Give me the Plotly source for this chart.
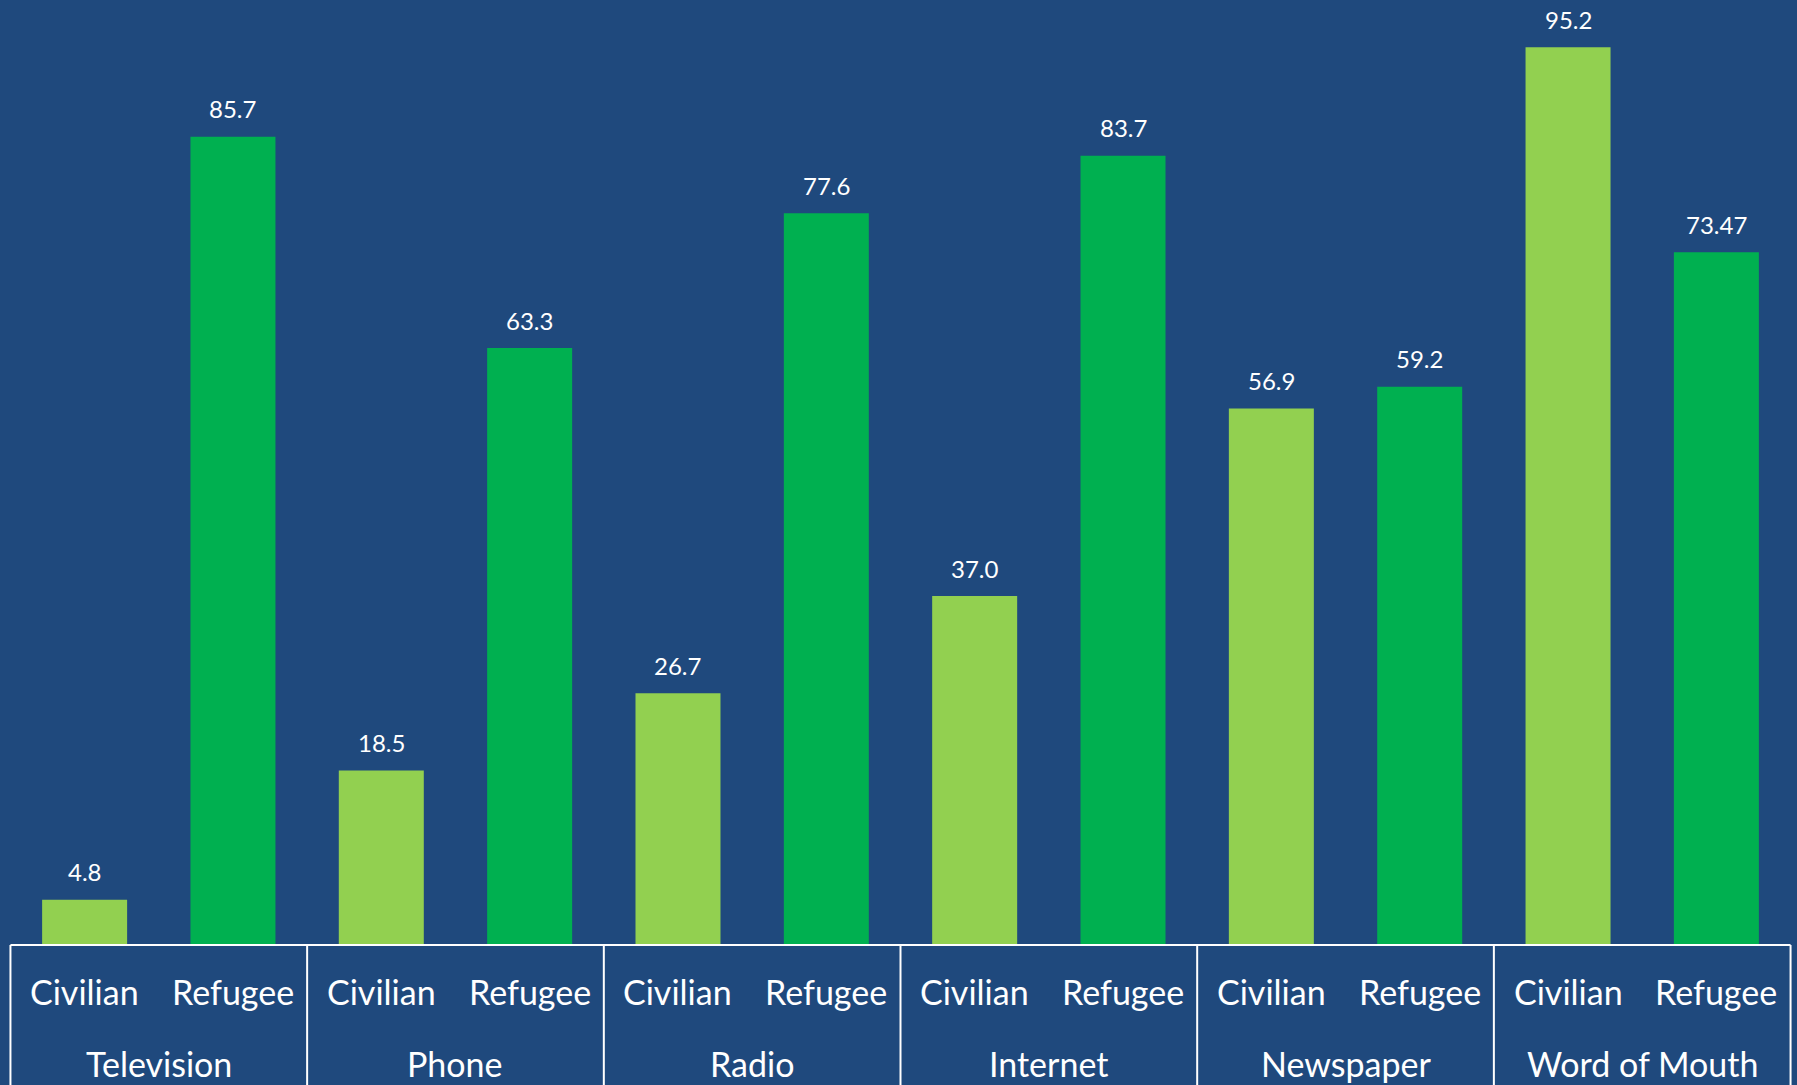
import plotly.graph_objects as go

media = ["Television", "Phone", "Radio", "Internet", "Newspaper", "Word of Mouth"]
groups = ["Civilian", "Refugee"]
civilian = [4.8, 18.5, 26.7, 37.0, 56.9, 95.2]
refugee = [85.7, 63.3, 77.6, 83.7, 59.2, 73.47]

BG = "#1F497D"
C_CIV = "#92D050"
C_REF = "#00B050"
FONT = "Lato"

cats = []
for m in media:
    for g in groups:
        cats.append(f"{m} {g}")

fig = go.Figure()
fig.add_trace(go.Bar(
    x=[f"{m} Civilian" for m in media], y=civilian,
    marker=dict(color=C_CIV, line=dict(width=0)), width=0.573,
    name="Civilian", hoverinfo="x+y",
))
fig.add_trace(go.Bar(
    x=[f"{m} Refugee" for m in media], y=refugee,
    marker=dict(color=C_REF, line=dict(width=0)), width=0.573,
    name="Refugee", hoverinfo="x+y",
))

annotations = []
shapes = []
for i, m in enumerate(media):
    for j, (vals, g) in enumerate([(civilian, "Civilian"), (refugee, "Refugee")]):
        idx = 2 * i + j
        v = vals[i]
        annotations.append(dict(
            x=idx, y=v, xref="x", yref="y", text=str(v), showarrow=False,
            yanchor="middle", yshift=28,
            font=dict(family=FONT, size=24, color="white"),
        ))
        annotations.append(dict(
            x=idx, y=-0.0498, xref="x", yref="paper", text=g, showarrow=False,
            yanchor="middle", font=dict(family=FONT, size=34, color="white"),
        ))
    annotations.append(dict(
        x=2 * i + 0.5, y=-0.126, xref="x", yref="paper", text=m, showarrow=False,
        yanchor="middle", font=dict(family=FONT, size=34, color="white"),
    ))

for k in range(len(media) + 1):
    xb = 2 * k - 0.5
    shapes.append(dict(type="line", xref="x", yref="paper", x0=xb, x1=xb, y0=0, y1=-0.2,
                       line=dict(color="white", width=2)))
shapes.append(dict(type="line", xref="x", yref="paper", x0=-0.5, x1=2 * len(media) - 0.5,
                   y0=0, y1=0, line=dict(color="white", width=2)))

fig.update_layout(
    width=1797, height=1085,
    margin=dict(l=6, r=2, t=2, b=140),
    paper_bgcolor=BG, plot_bgcolor=BG,
    barmode="overlay", showlegend=False,
    annotations=annotations, shapes=shapes,
    xaxis=dict(type="category", categoryorder="array", categoryarray=cats,
               range=[-0.53, 2 * len(media) - 0.47], showticklabels=False,
               showgrid=False, zeroline=False, showline=False, ticks=""),
    yaxis=dict(range=[0, 100], visible=False, showgrid=False, zeroline=False),
    font=dict(family=FONT, color="white"),
)

fig.write_html(
    "out.html",
    config={"displayModeBar": False},
    post_script="document.body.style.margin='0';document.body.style.padding='0';"
                "document.body.style.overflow='hidden';"
                "document.body.style.background='" + BG + "';",
)
